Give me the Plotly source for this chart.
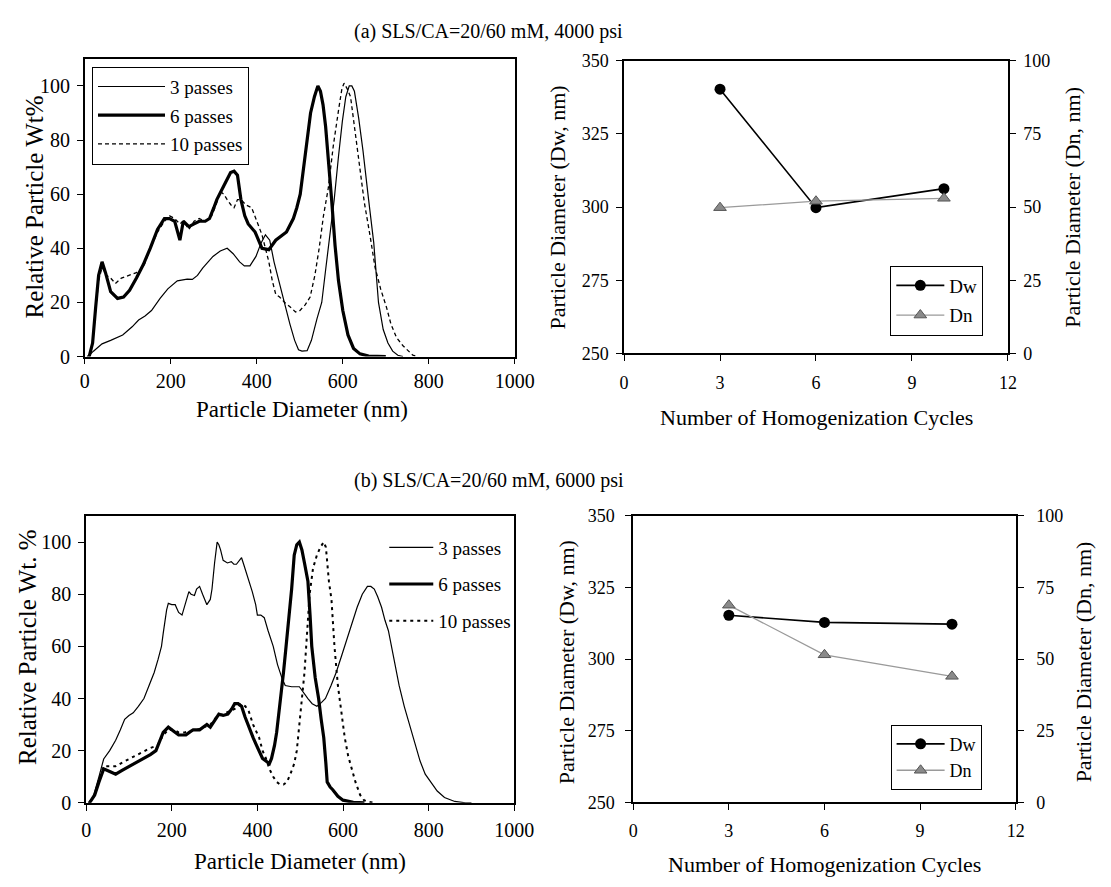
import plotly.graph_objects as go

# ---------------- data ----------------
# (a) 4000 psi  - particle size distributions
a3_x = [5, 10, 20, 40, 60, 88, 110, 125, 140, 155, 175, 193, 215, 238, 250, 262, 274, 298, 315, 331, 345, 360, 371, 384, 398, 410, 420, 430, 440, 452, 464, 477, 488, 497, 505, 517, 527, 540, 551, 560, 570, 580, 590, 599, 607, 615, 621, 627, 637, 647, 660, 672, 683, 694, 705, 716, 728, 740]
a3_y = [0, 0.5, 2, 4.7, 6, 8, 11, 13.5, 15, 17, 21.5, 25, 28, 28.6, 28.5, 30, 32.7, 37, 39, 40, 38, 35, 33.5, 33.5, 37, 42, 45, 43, 35, 28, 20, 12, 6, 2.5, 2, 2.2, 6, 14, 20, 32, 45, 58, 74, 87, 96, 100, 100, 98, 88, 76, 58, 42, 20, 10, 5, 2, 0.5, 0]

a6_x = [10, 18, 25, 32, 40, 48, 60, 76, 90, 104, 120, 136, 152, 169, 185, 197, 209, 215, 221, 229, 242, 254, 266, 280, 290, 300, 307, 323, 339, 347, 355, 363, 372, 380, 396, 412, 428, 444, 460, 469, 485, 493, 501, 509, 517, 525, 534, 542, 548, 554, 560, 566, 574, 582, 590, 600, 612, 625, 640, 660, 700]
a6_y = [0, 5, 18, 30, 35, 31, 24, 21.5, 22, 24.5, 29, 34, 40, 47, 51, 51, 50, 46, 43, 50, 48, 49, 50, 50, 51, 55, 58, 63, 68, 68.5, 67, 58, 52, 49, 46, 40, 39.5, 43, 45, 46, 51, 55, 60, 70, 82, 90, 96, 100, 98, 93, 85, 74, 58, 41, 28, 17, 8, 3, 1, 0.2, 0]

a10_x = [10, 18, 25, 32, 40, 50, 60, 71, 85, 104, 120, 136, 152, 169, 185, 197, 209, 221, 229, 242, 254, 266, 280, 295, 305, 315, 323, 331, 340, 347, 355, 363, 375, 388, 400, 412, 420, 428, 436, 444, 453, 465, 480, 490, 500, 512, 524, 535, 545, 555, 566, 578, 591, 598, 603, 610, 618, 628, 639, 650, 663, 675, 688, 702, 712, 725, 740, 752, 763, 775]
a10_y = [0, 5, 17, 28, 33, 30, 29, 27, 29, 30, 31, 33, 40, 46, 50, 52, 51, 49, 50, 47, 50, 51, 50, 52, 56, 61, 60, 58, 56, 55, 58, 58, 56, 55, 50, 45, 40, 35, 28, 23, 22, 20, 18, 16.5, 17, 19, 22, 30, 40, 52, 62, 78, 92, 99, 101, 99, 96, 84, 70, 57, 45, 33, 25, 18, 12, 7, 4, 2, 0.5, 0]

# (b) 6000 psi  - particle size distributions
b3_x = [5, 16, 30, 41, 55, 69, 80, 90, 100, 110, 122, 135, 147, 159, 168, 176, 180, 184, 188, 192, 200, 208, 216, 224, 233, 240, 245, 253, 258, 265, 272, 282, 290, 294, 300, 306, 310, 314, 320, 330, 339, 345, 351, 358, 363, 367, 371, 380, 388, 396, 400, 408, 416, 425, 437, 447, 457, 465, 480, 498, 508, 518, 528, 539, 550, 559, 572, 584, 596, 608, 620, 633, 645, 657, 665, 673, 681, 690, 698, 706, 718, 731, 743, 755, 768, 780, 792, 804, 820, 837, 861, 886, 900]
b3_y = [0, 2, 10, 16.8, 20, 24, 28, 32, 33.5, 34.5, 37, 40, 45, 50, 55, 60, 65, 70, 74, 76.5, 76, 76, 73, 72, 77, 81, 80, 79.5, 82, 83, 80, 76, 78, 82, 92, 100, 99, 97, 93, 92, 92.5, 91.5, 91.5, 93, 94, 92, 90, 85, 81, 76, 72, 72, 71, 66, 60, 53, 48, 45, 44.5, 44.5, 42, 40, 38, 37, 38.5, 40, 45, 50, 56, 62, 68, 75, 80, 83, 83, 82, 79, 75, 70, 66, 56, 45, 37, 30, 23, 16, 11, 8, 4.5, 2, 0.5, 0, 0]

b6_x = [8, 20, 30, 41, 55, 69, 85, 102, 118, 135, 150, 163, 172, 180, 192, 200, 208, 216, 225, 233, 241, 250, 265, 275, 282, 290, 298, 305, 310, 320, 331, 340, 347, 355, 363, 371, 380, 390, 398, 404, 412, 420, 428, 433, 440, 445, 453, 461, 467, 473, 480, 486, 492, 498, 504, 510, 514, 518, 523, 527, 535, 543, 549, 555, 560, 563, 570, 576, 588, 600, 624, 650]
b6_y = [0, 3, 8, 13, 12, 11, 12.5, 14, 15.5, 17, 18.5, 20, 24, 27, 29, 28, 27, 26, 26, 26, 27, 28, 28, 29, 30, 29, 31, 33, 34, 33.5, 34, 36, 38, 38, 37, 33, 29, 25, 22, 20, 17, 16, 15, 17, 22, 27, 38, 50, 60, 70, 82, 95, 99, 100, 97, 92, 88, 85, 72, 60, 48, 40, 32, 25, 15, 8, 6, 5, 2.5, 1, 0.2, 0]

b10_x = [8, 20, 30, 41, 55, 69, 85, 102, 118, 135, 150, 167, 180, 192, 205, 216, 230, 245, 260, 275, 290, 305, 320, 335, 347, 355, 363, 372, 380, 390, 398, 404, 412, 420, 428, 437, 445, 453, 461, 469, 477, 486, 492, 498, 504, 510, 516, 522, 530, 539, 547, 555, 560, 567, 573, 580, 588, 596, 604, 612, 620, 629, 640, 649, 660, 673]
b10_y = [0, 3, 9, 14, 14, 14, 15.5, 17, 18.5, 20, 21, 22, 26, 28, 28, 27, 27, 27.5, 28, 29, 30, 33, 34, 35, 36, 37, 38, 37, 35, 30, 27, 25, 20, 17, 13, 10, 8, 7, 7, 8, 11, 15, 20, 30, 40, 50, 65, 80, 90, 95, 98, 100, 98, 85, 78, 60, 45, 35, 25, 18, 13, 8, 3, 1, 0.3, 0]

# homogenization cycles vs diameter
cycles = [3, 6, 10]
a_dw = [340.3, 299.8, 306.3]
a_dn = [49.8, 52.0, 53.0]
b_dw = [315.3, 312.8, 312.2]
b_dn = [68.8, 51.5, 44.0]

series_names = ["3 passes", "6 passes", "10 passes"]
title_a = "(a) SLS/CA=20/60 mM, 4000 psi"
title_b = "(b) SLS/CA=20/60 mM, 6000 psi"

FONT = "Liberation Serif, Times New Roman, serif"
W, H = 1111, 887


def px(x):
    return x / W


def py(y):
    return 1 - y / H


fig = go.Figure()

# ---- (a) distribution
fig.add_trace(go.Scatter(x=a3_x, y=a3_y, mode="lines", name=series_names[0],
                         line=dict(color="black", width=1.2), xaxis="x", yaxis="y",
                         legend="legend", legendgroup="a1"))
fig.add_trace(go.Scatter(x=a6_x, y=a6_y, mode="lines", name=series_names[1],
                         line=dict(color="black", width=3.2), xaxis="x", yaxis="y",
                         legend="legend", legendgroup="a2"))
fig.add_trace(go.Scatter(x=a10_x, y=a10_y, mode="lines", name=series_names[2],
                         line=dict(color="black", width=1.3, dash="4px,3px"), xaxis="x", yaxis="y",
                         legend="legend", legendgroup="a3"))

# ---- (a) cycles
fig.add_trace(go.Scatter(x=cycles, y=a_dw, mode="lines+markers", name="Dw",
                         line=dict(color="black", width=1.6),
                         marker=dict(symbol="circle", size=11, color="black"),
                         xaxis="x2", yaxis="y2", legend="legend2", legendgroup="b1"))
fig.add_trace(go.Scatter(x=cycles, y=a_dn, mode="lines+markers", name="Dn",
                         line=dict(color="#9a9a9a", width=1.3),
                         marker=dict(symbol="triangle-up", size=11, color="#8a8a8a",
                                     line=dict(color="#555555", width=1)),
                         xaxis="x2", yaxis="y3", legend="legend2", legendgroup="b2"))

# ---- (b) distribution
fig.add_trace(go.Scatter(x=b3_x, y=b3_y, mode="lines", name=series_names[0],
                         line=dict(color="black", width=1.2), xaxis="x3", yaxis="y4",
                         legend="legend3", legendgroup="c1"))
fig.add_trace(go.Scatter(x=b6_x, y=b6_y, mode="lines", name=series_names[1],
                         line=dict(color="black", width=3.2), xaxis="x3", yaxis="y4",
                         legend="legend3", legendgroup="c2"))
fig.add_trace(go.Scatter(x=b10_x, y=b10_y, mode="lines", name=series_names[2],
                         line=dict(color="black", width=2, dash="3px,4px"), xaxis="x3", yaxis="y4",
                         legend="legend3", legendgroup="c3"))

# ---- (b) cycles
fig.add_trace(go.Scatter(x=cycles, y=b_dw, mode="lines+markers", name="Dw",
                         line=dict(color="black", width=1.6),
                         marker=dict(symbol="circle", size=11, color="black"),
                         xaxis="x4", yaxis="y5", legend="legend4", legendgroup="d1"))
fig.add_trace(go.Scatter(x=cycles, y=b_dn, mode="lines+markers", name="Dn",
                         line=dict(color="#9a9a9a", width=1.3),
                         marker=dict(symbol="triangle-up", size=11, color="#8a8a8a",
                                     line=dict(color="#555555", width=1)),
                         xaxis="x4", yaxis="y6", legend="legend4", legendgroup="d2"))

axis_common = dict(showline=True, linecolor="black", linewidth=1.6, ticks="outside",
                   ticklen=6, tickwidth=1.3, tickcolor="black", showgrid=False,
                   zeroline=False, color="black")

big_tick = dict(family=FONT, size=20, color="black")
small_tick = dict(family=FONT, size=18, color="black")

fig.update_layout(
    width=W, height=H, margin=dict(l=0, r=0, t=0, b=0),
    paper_bgcolor="white", plot_bgcolor="white",
    font=dict(family=FONT, color="black"),
    # (a) distribution
    xaxis=dict(**axis_common, domain=[px(81.7), px(521.5)], anchor="y", range=[0, 1000],
               tickvals=[0, 200, 400, 600, 800, 1000], mirror=True, tickfont=big_tick,
               ticklabelstandoff=0),
    yaxis=dict(**axis_common, domain=[py(355), py(50)], anchor="x", range=[0, 110],
               tickvals=[0, 20, 40, 60, 80, 100], mirror=True, tickfont=big_tick,
               ticklabelstandoff=3),
    # (a) cycles
    xaxis2=dict(**axis_common, domain=[px(633.3), px(1026)], anchor="y2", range=[0, 12],
                tickvals=[0, 3, 6, 9, 12], mirror=True, tickfont=small_tick,
                ticklabelstandoff=6),
    yaxis2=dict(**axis_common, domain=[py(351.7), py(52)], anchor="x2", range=[250, 350],
                tickvals=[250, 275, 300, 325, 350], tickfont=small_tick, ticklabelstandoff=4),
    yaxis3=dict(**axis_common, overlaying="y2", side="right", anchor="x2", range=[0, 100],
                tickvals=[0, 25, 50, 75, 100], tickfont=small_tick, ticklabelstandoff=4),
    # (b) distribution
    xaxis3=dict(**axis_common, domain=[px(83), px(521)], anchor="y4", range=[0, 1000],
                tickvals=[0, 200, 400, 600, 800, 1000], mirror=True, tickfont=big_tick,
                ticklabelstandoff=2),
    yaxis4=dict(**axis_common, domain=[py(812), py(518.3)], anchor="x3", range=[0, 110],
                tickvals=[0, 20, 40, 60, 80, 100], mirror=True, tickfont=big_tick,
                ticklabelstandoff=3),
    # (b) cycles
    xaxis4=dict(**axis_common, domain=[px(642.7), px(1034)], anchor="y5", range=[0, 12],
                tickvals=[0, 3, 6, 9, 12], mirror=True, tickfont=small_tick,
                ticklabelstandoff=5),
    yaxis5=dict(**axis_common, domain=[py(811.7), py(518)], anchor="x4", range=[250, 350],
                tickvals=[250, 275, 300, 325, 350], tickfont=small_tick, ticklabelstandoff=7),
    yaxis6=dict(**axis_common, overlaying="y5", side="right", anchor="x4", range=[0, 100],
                tickvals=[0, 25, 50, 75, 100], tickfont=small_tick, ticklabelstandoff=9),
    legend=dict(x=px(89), y=py(58), xanchor="left", yanchor="top", bgcolor="white",
                bordercolor="black", borderwidth=1, itemwidth=67, traceorder="grouped",
                tracegroupgap=1, font=dict(family=FONT, size=19, color="black")),
    legend2=dict(x=px(905.7), y=py(261.7), xanchor="left", yanchor="top", bgcolor="white",
                 bordercolor="black", borderwidth=1, itemwidth=48, traceorder="grouped",
                 tracegroupgap=2, font=dict(family=FONT, size=19, color="black")),
    legend3=dict(x=px(388), y=py(531), xanchor="left", yanchor="top", bgcolor="rgba(0,0,0,0)",
                 borderwidth=0, itemwidth=44, traceorder="grouped",
                 tracegroupgap=9, font=dict(family=FONT, size=19, color="black")),
    legend4=dict(x=px(906), y=py(732), xanchor="left", yanchor="top", bgcolor="white",
                 bordercolor="black", borderwidth=1, itemwidth=48, traceorder="grouped",
                 tracegroupgap=0, font=dict(family=FONT, size=18, color="black")),
)

ann = []


def text(x, y, s, size, angle=0):
    ann.append(dict(x=px(x), y=py(y), xref="paper", yref="paper", text=s, showarrow=False,
                    xanchor="center", yanchor="middle", textangle=angle,
                    font=dict(family=FONT, size=size, color="black")))


text(495, 22, title_a, 20)
text(495, 482, title_b, 20)
text(304, 409, "Particle Diameter (nm)", 23)
text(30, 202, "Relative Particle Wt%", 25, -90)
text(830, 417, "Number of Homogenization Cycles", 22)
text(565, 202, "Particle Diameter (Dw, nm)", 22, -90)
text(1092, 202, "Particle Diameter (Dn, nm)", 22, -90)
text(302, 872, "Particle Diameter (nm)", 23)
text(23, 652, "Relative Particle Wt. %", 25, -90)
text(838, 875, "Number of Homogenization Cycles", 22)
text(574, 668, "Particle Diameter (Dw, nm)", 22, -90)
text(1103, 668, "Particle Diameter (Dn, nm)", 22, -90)

fig.update_layout(annotations=ann)

fig.write_html("out.html")
